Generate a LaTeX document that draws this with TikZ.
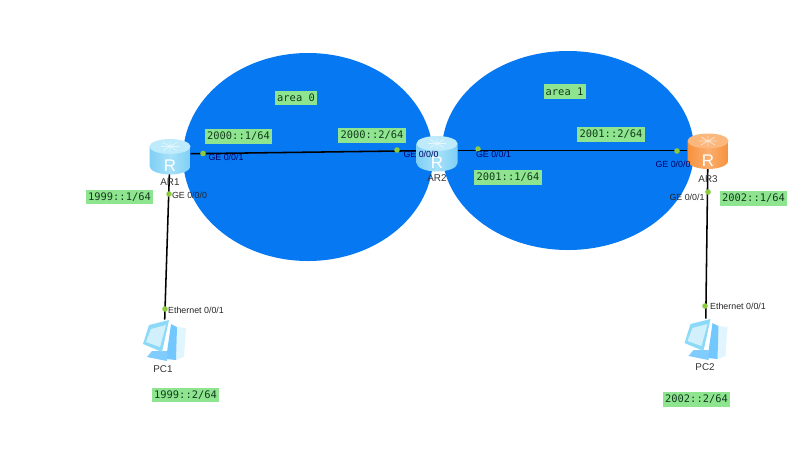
\documentclass[tikz,border=0pt]{standalone}
\usepackage{fontspec}
\setmainfont{Liberation Sans}
\newfontfamily\labelmono{DejaVu Sans Mono}
\usetikzlibrary{positioning}

\definecolor{areablue}{HTML}{0678F2}
\definecolor{tagbg}{HTML}{8FE58F}
\definecolor{tagtext}{HTML}{123A1E}
\definecolor{portdot}{HTML}{8CCB3C}
\definecolor{routertop}{HTML}{BDEBFB}
\definecolor{routerside}{HTML}{7FCFF5}
\definecolor{routermid}{HTML}{A6E1F9}
\definecolor{hubtop}{HTML}{FBB77C}
\definecolor{hubside}{HTML}{F7913C}
\definecolor{hubmid}{HTML}{FAAE6E}

\tikzset{
  tag/.style={fill=tagbg, text=tagtext, font=\labelmono\fontsize{7.4}{9}\selectfont, inner sep=0pt, minimum width=1.69cm, minimum height=0.37cm},
  areatag/.style={tag, minimum width=1.05cm},
  port/.style={font=\fontsize{6.3}{8}\selectfont, inner sep=0pt, text=black!85},
  portblue/.style={port, text=black!60!blue},
  devname/.style={font=\fontsize{7}{8}\selectfont, inner sep=0pt, text=black!80},
  dot/.style={circle, fill=portdot, inner sep=0pt, minimum size=0.14cm},
  router/.style={inner sep=0pt, minimum width=1.02cm, minimum height=0.85cm},
  pc/.style={inner sep=0pt, minimum width=1.05cm, minimum height=1.05cm},
  link/.style={black, line width=1.1pt}
}

% router icon: node name, y offset, top, side, middle
\newcommand{\routericon}[5]{
  \begin{scope}[shift={(#1.center)}, yshift=#2*-0.025cm]
    \path[left color=#4, right color=#4, middle color=#5] (-20.5,-10.5) -- (-20.5,9) arc[x radius=20.5, y radius=8.5, start angle=180, end angle=0] -- (20.5,-10.5) -- cycle;
    \fill[#3] (0,-10.5) ellipse[x radius=20.5, y radius=7.5];
    \draw[white, opacity=0.6, line width=0.5pt] (-9,-10.5) -- (9,-10.5) (0,-15.5) -- (0,-5.5) (-7,-14.5) -- (7,-6.5) (-7,-6.5) -- (7,-14.5);
    \node[white, inner sep=0pt, font=\fontsize{12}{12}\selectfont] at (0,9) {R};
  \end{scope}
}

% pc icon: node name
\newcommand{\pcicon}[1]{
  \begin{scope}[shift={(#1.center)}]
    \fill[cyan!12!white] (13,-14) -- (22,-13) -- (20,16) -- (12,19) -- cycle;
    \fill[blue!40!cyan!55!white] (7,-17) -- (13,-14) -- (12,19) -- (2,18) -- cycle;
    \fill[blue!40!cyan!50!white] (-12,10) -- (3,10) -- (3,20) -- (-17,16) -- cycle;
    \fill[cyan!45!white] (-15,-16) -- (5,-21) -- (-2,11) -- (-21,3) -- cycle;
    \fill[cyan!18!white] (-13,-12) -- (2,-16) -- (-4,6) -- (-18,1) -- cycle;
  \end{scope}
}

\begin{document}
\begin{tikzpicture}[x=0.025cm, y=-0.025cm]
  \useasboundingbox (0,0) rectangle (800,448);

  % Areas
  \fill[areablue] (308,157) ellipse[x radius=125, y radius=104];
  \fill[areablue] (568,150.5) ellipse[x radius=126, y radius=99.5];

  % Nodes
  \node at (170,154) (ar1) [router] {};
  \node at (437,150.5) (ar2) [router] {};
  \node at (708,150.5) (ar3) [router] {};
  \node at (164,341) (pc1) [pc] {};
  \node at (705.5,340) (pc2) [pc] {};

  % Links
  \draw[link] (ar1) -- (ar2);
  \draw[link] (ar2) -- (ar3);
  \draw[link] (ar1) -- (pc1);
  \draw[link] (ar3) -- (pc2);

  % Icons
  \routericon{ar1}{3}{routertop}{routerside}{routermid}
  \routericon{ar2}{3.5}{routertop}{routerside}{routermid}
  \routericon{ar3}{1}{hubtop}{hubside}{hubmid}
  \pcicon{pc1}
  \pcicon{pc2}

  % Port dots
  \node at (203,153.5) (d1) [dot] {};
  \node at (397,150) (d2) [dot] {};
  \node at (478,149) (d3) [dot] {};
  \node at (677,151) (d4) [dot] {};
  \node at (169,194) (d5) [dot] {};
  \node at (165,309) (d6) [dot] {};
  \node at (708,192) (d7) [dot] {};
  \node at (705,306) (d8) [dot] {};

  % Device names
  \node at (170,182) (ar1name) [devname] {AR1};
  \node at (437,178) (ar2name) [devname] {AR2};
  \node at (708,179) (ar3name) [devname] {AR3};
  \node at (163,369) (pc1name) [devname] {PC1};
  \node at (705,367) (pc2name) [devname] {PC2};

  % Port names
  \node at (226,157) (p1) [portblue] {GE 0/0/1};
  \node at (189.5,195) (p2) [port] {GE 0/0/0};
  \node at (421,154) (p3) [portblue] {GE 0/0/0};
  \node at (493.5,154) (p4) [portblue] {GE 0/0/1};
  \node at (673,164) (p5) [portblue] {GE 0/0/0};
  \node at (687,197) (p6) [port] {GE 0/0/1};
  \node at (196,310) (p7) [port] {Ethernet 0/0/1};
  \node at (738,306) (p8) [port] {Ethernet 0/0/1};

  % Green tags
  \node at (296,98) (area0) [areatag] {area 0};
  \node at (564.5,91.5) (area1) [areatag] {area 1};
  \node at (238.5,136.5) (t1) [tag] {2000::1/64};
  \node at (372,135.5) (t2) [tag] {2000::2/64};
  \node at (508,177.5) (t3) [tag] {2001::1/64};
  \node at (611,134.5) (t4) [tag] {2001::2/64};
  \node at (119.5,197) (t5) [tag] {1999::1/64};
  \node at (753.5,198.5) (t6) [tag] {2002::1/64};
  \node at (185.5,395) (t7) [tag] {1999::2/64};
  \node at (696.5,399.5) (t8) [tag] {2002::2/64};
\end{tikzpicture}
\end{document}
